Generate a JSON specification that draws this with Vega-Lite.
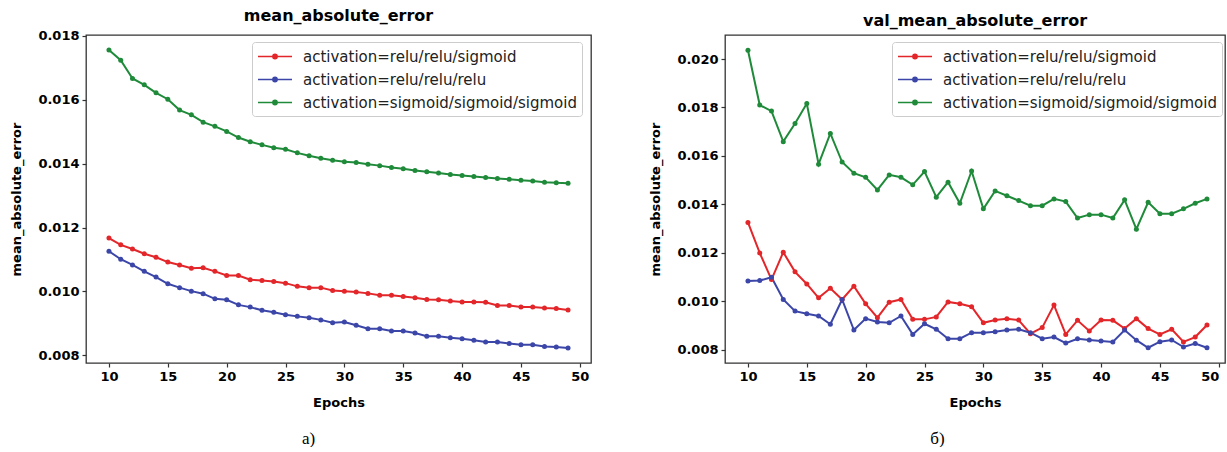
{
  "$schema": "https://vega.github.io/schema/vega-lite/v6.json",
  "background": "white",
  "padding": {"left": 10, "top": 7, "right": 0, "bottom": 0},
  "config": {
    "view": {"stroke": "#333333", "strokeWidth": 1.3},
    "font": "DejaVu Sans",
    "axis": {"domain": false, "grid": false, "tickColor": "#333333", "tickSize": 4, "tickWidth": 1.2, "labelFont": "DejaVu Sans", "labelFontWeight": "bold", "labelFontSize": 13, "labelColor": "#000000", "labelPadding": 3, "titleFont": "DejaVu Sans", "titleFontWeight": "bold", "titleFontSize": 13, "titleColor": "#000000"},
    "title": {"font": "DejaVu Sans", "fontSize": 16, "fontWeight": "bold", "color": "#000000", "offset": 6},
    "legend": {"title": null, "orient": "none", "legendX": 166, "legendY": 7, "symbolType": "M-1,0H3M0.75,0A0.25,0.25,0,1,1,1.25,0A0.25,0.25,0,1,1,0.75,0Z", "symbolSize": 289, "symbolStrokeWidth": 1.6, "labelFont": "DejaVu Sans", "labelFontSize": 15, "labelColor": "#222222", "labelOffset": 27, "rowPadding": 5, "padding": 5, "fillColor": "white", "strokeColor": "#cccccc", "cornerRadius": 3, "labelLimit": 400}
  },
  "datasets": {
    "train": [
      {"epoch": 10, "activation": "activation=relu/relu/sigmoid", "mae": 0.01167},
      {"epoch": 11, "activation": "activation=relu/relu/sigmoid", "mae": 0.01146},
      {"epoch": 12, "activation": "activation=relu/relu/sigmoid", "mae": 0.01133},
      {"epoch": 13, "activation": "activation=relu/relu/sigmoid", "mae": 0.01118},
      {"epoch": 14, "activation": "activation=relu/relu/sigmoid", "mae": 0.01107},
      {"epoch": 15, "activation": "activation=relu/relu/sigmoid", "mae": 0.01092},
      {"epoch": 16, "activation": "activation=relu/relu/sigmoid", "mae": 0.01083},
      {"epoch": 17, "activation": "activation=relu/relu/sigmoid", "mae": 0.01073},
      {"epoch": 18, "activation": "activation=relu/relu/sigmoid", "mae": 0.01074},
      {"epoch": 19, "activation": "activation=relu/relu/sigmoid", "mae": 0.01063},
      {"epoch": 20, "activation": "activation=relu/relu/sigmoid", "mae": 0.0105},
      {"epoch": 21, "activation": "activation=relu/relu/sigmoid", "mae": 0.0105},
      {"epoch": 22, "activation": "activation=relu/relu/sigmoid", "mae": 0.01037},
      {"epoch": 23, "activation": "activation=relu/relu/sigmoid", "mae": 0.01034},
      {"epoch": 24, "activation": "activation=relu/relu/sigmoid", "mae": 0.01031},
      {"epoch": 25, "activation": "activation=relu/relu/sigmoid", "mae": 0.01026},
      {"epoch": 26, "activation": "activation=relu/relu/sigmoid", "mae": 0.01016},
      {"epoch": 27, "activation": "activation=relu/relu/sigmoid", "mae": 0.01012},
      {"epoch": 28, "activation": "activation=relu/relu/sigmoid", "mae": 0.01012},
      {"epoch": 29, "activation": "activation=relu/relu/sigmoid", "mae": 0.01003},
      {"epoch": 30, "activation": "activation=relu/relu/sigmoid", "mae": 0.01001},
      {"epoch": 31, "activation": "activation=relu/relu/sigmoid", "mae": 0.00998},
      {"epoch": 32, "activation": "activation=relu/relu/sigmoid", "mae": 0.00994},
      {"epoch": 33, "activation": "activation=relu/relu/sigmoid", "mae": 0.00988},
      {"epoch": 34, "activation": "activation=relu/relu/sigmoid", "mae": 0.00988},
      {"epoch": 35, "activation": "activation=relu/relu/sigmoid", "mae": 0.00984},
      {"epoch": 36, "activation": "activation=relu/relu/sigmoid", "mae": 0.0098},
      {"epoch": 37, "activation": "activation=relu/relu/sigmoid", "mae": 0.00975},
      {"epoch": 38, "activation": "activation=relu/relu/sigmoid", "mae": 0.00974},
      {"epoch": 39, "activation": "activation=relu/relu/sigmoid", "mae": 0.0097},
      {"epoch": 40, "activation": "activation=relu/relu/sigmoid", "mae": 0.00967},
      {"epoch": 41, "activation": "activation=relu/relu/sigmoid", "mae": 0.00967},
      {"epoch": 42, "activation": "activation=relu/relu/sigmoid", "mae": 0.00966},
      {"epoch": 43, "activation": "activation=relu/relu/sigmoid", "mae": 0.00956},
      {"epoch": 44, "activation": "activation=relu/relu/sigmoid", "mae": 0.00956},
      {"epoch": 45, "activation": "activation=relu/relu/sigmoid", "mae": 0.00951},
      {"epoch": 46, "activation": "activation=relu/relu/sigmoid", "mae": 0.00951},
      {"epoch": 47, "activation": "activation=relu/relu/sigmoid", "mae": 0.00948},
      {"epoch": 48, "activation": "activation=relu/relu/sigmoid", "mae": 0.00947},
      {"epoch": 49, "activation": "activation=relu/relu/sigmoid", "mae": 0.00942},
      {"epoch": 10, "activation": "activation=relu/relu/relu", "mae": 0.01126},
      {"epoch": 11, "activation": "activation=relu/relu/relu", "mae": 0.01101},
      {"epoch": 12, "activation": "activation=relu/relu/relu", "mae": 0.01083},
      {"epoch": 13, "activation": "activation=relu/relu/relu", "mae": 0.01063},
      {"epoch": 14, "activation": "activation=relu/relu/relu", "mae": 0.01045},
      {"epoch": 15, "activation": "activation=relu/relu/relu", "mae": 0.01024},
      {"epoch": 16, "activation": "activation=relu/relu/relu", "mae": 0.01012},
      {"epoch": 17, "activation": "activation=relu/relu/relu", "mae": 0.01001},
      {"epoch": 18, "activation": "activation=relu/relu/relu", "mae": 0.00993},
      {"epoch": 19, "activation": "activation=relu/relu/relu", "mae": 0.00977},
      {"epoch": 20, "activation": "activation=relu/relu/relu", "mae": 0.00974},
      {"epoch": 21, "activation": "activation=relu/relu/relu", "mae": 0.00958},
      {"epoch": 22, "activation": "activation=relu/relu/relu", "mae": 0.00951},
      {"epoch": 23, "activation": "activation=relu/relu/relu", "mae": 0.00941},
      {"epoch": 24, "activation": "activation=relu/relu/relu", "mae": 0.00935},
      {"epoch": 25, "activation": "activation=relu/relu/relu", "mae": 0.00927},
      {"epoch": 26, "activation": "activation=relu/relu/relu", "mae": 0.00922},
      {"epoch": 27, "activation": "activation=relu/relu/relu", "mae": 0.00918},
      {"epoch": 28, "activation": "activation=relu/relu/relu", "mae": 0.00911},
      {"epoch": 29, "activation": "activation=relu/relu/relu", "mae": 0.00902},
      {"epoch": 30, "activation": "activation=relu/relu/relu", "mae": 0.00904},
      {"epoch": 31, "activation": "activation=relu/relu/relu", "mae": 0.00894},
      {"epoch": 32, "activation": "activation=relu/relu/relu", "mae": 0.00883},
      {"epoch": 33, "activation": "activation=relu/relu/relu", "mae": 0.00883},
      {"epoch": 34, "activation": "activation=relu/relu/relu", "mae": 0.00876},
      {"epoch": 35, "activation": "activation=relu/relu/relu", "mae": 0.00876},
      {"epoch": 36, "activation": "activation=relu/relu/relu", "mae": 0.0087},
      {"epoch": 37, "activation": "activation=relu/relu/relu", "mae": 0.0086},
      {"epoch": 38, "activation": "activation=relu/relu/relu", "mae": 0.0086},
      {"epoch": 39, "activation": "activation=relu/relu/relu", "mae": 0.00855},
      {"epoch": 40, "activation": "activation=relu/relu/relu", "mae": 0.00852},
      {"epoch": 41, "activation": "activation=relu/relu/relu", "mae": 0.00847},
      {"epoch": 42, "activation": "activation=relu/relu/relu", "mae": 0.00842},
      {"epoch": 43, "activation": "activation=relu/relu/relu", "mae": 0.00842},
      {"epoch": 44, "activation": "activation=relu/relu/relu", "mae": 0.00837},
      {"epoch": 45, "activation": "activation=relu/relu/relu", "mae": 0.00833},
      {"epoch": 46, "activation": "activation=relu/relu/relu", "mae": 0.00833},
      {"epoch": 47, "activation": "activation=relu/relu/relu", "mae": 0.00828},
      {"epoch": 48, "activation": "activation=relu/relu/relu", "mae": 0.00826},
      {"epoch": 49, "activation": "activation=relu/relu/relu", "mae": 0.00823},
      {"epoch": 10, "activation": "activation=sigmoid/sigmoid/sigmoid", "mae": 0.01756},
      {"epoch": 11, "activation": "activation=sigmoid/sigmoid/sigmoid", "mae": 0.01724},
      {"epoch": 12, "activation": "activation=sigmoid/sigmoid/sigmoid", "mae": 0.01667},
      {"epoch": 13, "activation": "activation=sigmoid/sigmoid/sigmoid", "mae": 0.01647},
      {"epoch": 14, "activation": "activation=sigmoid/sigmoid/sigmoid", "mae": 0.01622},
      {"epoch": 15, "activation": "activation=sigmoid/sigmoid/sigmoid", "mae": 0.01602},
      {"epoch": 16, "activation": "activation=sigmoid/sigmoid/sigmoid", "mae": 0.01568},
      {"epoch": 17, "activation": "activation=sigmoid/sigmoid/sigmoid", "mae": 0.01553},
      {"epoch": 18, "activation": "activation=sigmoid/sigmoid/sigmoid", "mae": 0.0153},
      {"epoch": 19, "activation": "activation=sigmoid/sigmoid/sigmoid", "mae": 0.01517},
      {"epoch": 20, "activation": "activation=sigmoid/sigmoid/sigmoid", "mae": 0.01501},
      {"epoch": 21, "activation": "activation=sigmoid/sigmoid/sigmoid", "mae": 0.01482},
      {"epoch": 22, "activation": "activation=sigmoid/sigmoid/sigmoid", "mae": 0.01469},
      {"epoch": 23, "activation": "activation=sigmoid/sigmoid/sigmoid", "mae": 0.01459},
      {"epoch": 24, "activation": "activation=sigmoid/sigmoid/sigmoid", "mae": 0.0145},
      {"epoch": 25, "activation": "activation=sigmoid/sigmoid/sigmoid", "mae": 0.01445},
      {"epoch": 26, "activation": "activation=sigmoid/sigmoid/sigmoid", "mae": 0.01434},
      {"epoch": 27, "activation": "activation=sigmoid/sigmoid/sigmoid", "mae": 0.01425},
      {"epoch": 28, "activation": "activation=sigmoid/sigmoid/sigmoid", "mae": 0.01417},
      {"epoch": 29, "activation": "activation=sigmoid/sigmoid/sigmoid", "mae": 0.01411},
      {"epoch": 30, "activation": "activation=sigmoid/sigmoid/sigmoid", "mae": 0.01406},
      {"epoch": 31, "activation": "activation=sigmoid/sigmoid/sigmoid", "mae": 0.01404},
      {"epoch": 32, "activation": "activation=sigmoid/sigmoid/sigmoid", "mae": 0.01398},
      {"epoch": 33, "activation": "activation=sigmoid/sigmoid/sigmoid", "mae": 0.01394},
      {"epoch": 34, "activation": "activation=sigmoid/sigmoid/sigmoid", "mae": 0.01388},
      {"epoch": 35, "activation": "activation=sigmoid/sigmoid/sigmoid", "mae": 0.01384},
      {"epoch": 36, "activation": "activation=sigmoid/sigmoid/sigmoid", "mae": 0.01379},
      {"epoch": 37, "activation": "activation=sigmoid/sigmoid/sigmoid", "mae": 0.01375},
      {"epoch": 38, "activation": "activation=sigmoid/sigmoid/sigmoid", "mae": 0.01371},
      {"epoch": 39, "activation": "activation=sigmoid/sigmoid/sigmoid", "mae": 0.01366},
      {"epoch": 40, "activation": "activation=sigmoid/sigmoid/sigmoid", "mae": 0.01363},
      {"epoch": 41, "activation": "activation=sigmoid/sigmoid/sigmoid", "mae": 0.0136},
      {"epoch": 42, "activation": "activation=sigmoid/sigmoid/sigmoid", "mae": 0.01357},
      {"epoch": 43, "activation": "activation=sigmoid/sigmoid/sigmoid", "mae": 0.01354},
      {"epoch": 44, "activation": "activation=sigmoid/sigmoid/sigmoid", "mae": 0.01351},
      {"epoch": 45, "activation": "activation=sigmoid/sigmoid/sigmoid", "mae": 0.01348},
      {"epoch": 46, "activation": "activation=sigmoid/sigmoid/sigmoid", "mae": 0.01346},
      {"epoch": 47, "activation": "activation=sigmoid/sigmoid/sigmoid", "mae": 0.01342},
      {"epoch": 48, "activation": "activation=sigmoid/sigmoid/sigmoid", "mae": 0.0134},
      {"epoch": 49, "activation": "activation=sigmoid/sigmoid/sigmoid", "mae": 0.01339}
    ],
    "val": [
      {"epoch": 10, "activation": "activation=relu/relu/sigmoid", "mae": 0.01326},
      {"epoch": 11, "activation": "activation=relu/relu/sigmoid", "mae": 0.012},
      {"epoch": 12, "activation": "activation=relu/relu/sigmoid", "mae": 0.0109},
      {"epoch": 13, "activation": "activation=relu/relu/sigmoid", "mae": 0.01203},
      {"epoch": 14, "activation": "activation=relu/relu/sigmoid", "mae": 0.01122},
      {"epoch": 15, "activation": "activation=relu/relu/sigmoid", "mae": 0.01072},
      {"epoch": 16, "activation": "activation=relu/relu/sigmoid", "mae": 0.01015},
      {"epoch": 17, "activation": "activation=relu/relu/sigmoid", "mae": 0.01054},
      {"epoch": 18, "activation": "activation=relu/relu/sigmoid", "mae": 0.01008},
      {"epoch": 19, "activation": "activation=relu/relu/sigmoid", "mae": 0.01063},
      {"epoch": 20, "activation": "activation=relu/relu/sigmoid", "mae": 0.0099},
      {"epoch": 21, "activation": "activation=relu/relu/sigmoid", "mae": 0.00933},
      {"epoch": 22, "activation": "activation=relu/relu/sigmoid", "mae": 0.00997},
      {"epoch": 23, "activation": "activation=relu/relu/sigmoid", "mae": 0.01008},
      {"epoch": 24, "activation": "activation=relu/relu/sigmoid", "mae": 0.00926},
      {"epoch": 25, "activation": "activation=relu/relu/sigmoid", "mae": 0.00926},
      {"epoch": 26, "activation": "activation=relu/relu/sigmoid", "mae": 0.00936},
      {"epoch": 27, "activation": "activation=relu/relu/sigmoid", "mae": 0.00998},
      {"epoch": 28, "activation": "activation=relu/relu/sigmoid", "mae": 0.0099},
      {"epoch": 29, "activation": "activation=relu/relu/sigmoid", "mae": 0.00978},
      {"epoch": 30, "activation": "activation=relu/relu/sigmoid", "mae": 0.00912},
      {"epoch": 31, "activation": "activation=relu/relu/sigmoid", "mae": 0.00923},
      {"epoch": 32, "activation": "activation=relu/relu/sigmoid", "mae": 0.00929},
      {"epoch": 33, "activation": "activation=relu/relu/sigmoid", "mae": 0.00923},
      {"epoch": 34, "activation": "activation=relu/relu/sigmoid", "mae": 0.00867},
      {"epoch": 35, "activation": "activation=relu/relu/sigmoid", "mae": 0.00892},
      {"epoch": 36, "activation": "activation=relu/relu/sigmoid", "mae": 0.00985},
      {"epoch": 37, "activation": "activation=relu/relu/sigmoid", "mae": 0.00864},
      {"epoch": 38, "activation": "activation=relu/relu/sigmoid", "mae": 0.00922},
      {"epoch": 39, "activation": "activation=relu/relu/sigmoid", "mae": 0.00878},
      {"epoch": 40, "activation": "activation=relu/relu/sigmoid", "mae": 0.00923},
      {"epoch": 41, "activation": "activation=relu/relu/sigmoid", "mae": 0.00922},
      {"epoch": 42, "activation": "activation=relu/relu/sigmoid", "mae": 0.00888},
      {"epoch": 43, "activation": "activation=relu/relu/sigmoid", "mae": 0.00929},
      {"epoch": 44, "activation": "activation=relu/relu/sigmoid", "mae": 0.00888},
      {"epoch": 45, "activation": "activation=relu/relu/sigmoid", "mae": 0.00864},
      {"epoch": 46, "activation": "activation=relu/relu/sigmoid", "mae": 0.00885},
      {"epoch": 47, "activation": "activation=relu/relu/sigmoid", "mae": 0.00833},
      {"epoch": 48, "activation": "activation=relu/relu/sigmoid", "mae": 0.00853},
      {"epoch": 49, "activation": "activation=relu/relu/sigmoid", "mae": 0.00903},
      {"epoch": 10, "activation": "activation=relu/relu/relu", "mae": 0.01084},
      {"epoch": 11, "activation": "activation=relu/relu/relu", "mae": 0.01086},
      {"epoch": 12, "activation": "activation=relu/relu/relu", "mae": 0.011},
      {"epoch": 13, "activation": "activation=relu/relu/relu", "mae": 0.01008},
      {"epoch": 14, "activation": "activation=relu/relu/relu", "mae": 0.0096},
      {"epoch": 15, "activation": "activation=relu/relu/relu", "mae": 0.00949},
      {"epoch": 16, "activation": "activation=relu/relu/relu", "mae": 0.0094},
      {"epoch": 17, "activation": "activation=relu/relu/relu", "mae": 0.00906},
      {"epoch": 18, "activation": "activation=relu/relu/relu", "mae": 0.01008},
      {"epoch": 19, "activation": "activation=relu/relu/relu", "mae": 0.00882},
      {"epoch": 20, "activation": "activation=relu/relu/relu", "mae": 0.00929},
      {"epoch": 21, "activation": "activation=relu/relu/relu", "mae": 0.00915},
      {"epoch": 22, "activation": "activation=relu/relu/relu", "mae": 0.00912},
      {"epoch": 23, "activation": "activation=relu/relu/relu", "mae": 0.0094},
      {"epoch": 24, "activation": "activation=relu/relu/relu", "mae": 0.00864},
      {"epoch": 25, "activation": "activation=relu/relu/relu", "mae": 0.00908},
      {"epoch": 26, "activation": "activation=relu/relu/relu", "mae": 0.00885},
      {"epoch": 27, "activation": "activation=relu/relu/relu", "mae": 0.00846},
      {"epoch": 28, "activation": "activation=relu/relu/relu", "mae": 0.00846},
      {"epoch": 29, "activation": "activation=relu/relu/relu", "mae": 0.00871},
      {"epoch": 30, "activation": "activation=relu/relu/relu", "mae": 0.00871},
      {"epoch": 31, "activation": "activation=relu/relu/relu", "mae": 0.00875},
      {"epoch": 32, "activation": "activation=relu/relu/relu", "mae": 0.00882},
      {"epoch": 33, "activation": "activation=relu/relu/relu", "mae": 0.00885},
      {"epoch": 34, "activation": "activation=relu/relu/relu", "mae": 0.00871},
      {"epoch": 35, "activation": "activation=relu/relu/relu", "mae": 0.00846},
      {"epoch": 36, "activation": "activation=relu/relu/relu", "mae": 0.00853},
      {"epoch": 37, "activation": "activation=relu/relu/relu", "mae": 0.00828},
      {"epoch": 38, "activation": "activation=relu/relu/relu", "mae": 0.00846},
      {"epoch": 39, "activation": "activation=relu/relu/relu", "mae": 0.00841},
      {"epoch": 40, "activation": "activation=relu/relu/relu", "mae": 0.00837},
      {"epoch": 41, "activation": "activation=relu/relu/relu", "mae": 0.00833},
      {"epoch": 42, "activation": "activation=relu/relu/relu", "mae": 0.00882},
      {"epoch": 43, "activation": "activation=relu/relu/relu", "mae": 0.0084},
      {"epoch": 44, "activation": "activation=relu/relu/relu", "mae": 0.00809},
      {"epoch": 45, "activation": "activation=relu/relu/relu", "mae": 0.00834},
      {"epoch": 46, "activation": "activation=relu/relu/relu", "mae": 0.00841},
      {"epoch": 47, "activation": "activation=relu/relu/relu", "mae": 0.00812},
      {"epoch": 48, "activation": "activation=relu/relu/relu", "mae": 0.00826},
      {"epoch": 49, "activation": "activation=relu/relu/relu", "mae": 0.00809},
      {"epoch": 10, "activation": "activation=sigmoid/sigmoid/sigmoid", "mae": 0.02036},
      {"epoch": 11, "activation": "activation=sigmoid/sigmoid/sigmoid", "mae": 0.0181},
      {"epoch": 12, "activation": "activation=sigmoid/sigmoid/sigmoid", "mae": 0.01785},
      {"epoch": 13, "activation": "activation=sigmoid/sigmoid/sigmoid", "mae": 0.01659},
      {"epoch": 14, "activation": "activation=sigmoid/sigmoid/sigmoid", "mae": 0.01734},
      {"epoch": 15, "activation": "activation=sigmoid/sigmoid/sigmoid", "mae": 0.01816},
      {"epoch": 16, "activation": "activation=sigmoid/sigmoid/sigmoid", "mae": 0.01566},
      {"epoch": 17, "activation": "activation=sigmoid/sigmoid/sigmoid", "mae": 0.01693},
      {"epoch": 18, "activation": "activation=sigmoid/sigmoid/sigmoid", "mae": 0.01575},
      {"epoch": 19, "activation": "activation=sigmoid/sigmoid/sigmoid", "mae": 0.01529},
      {"epoch": 20, "activation": "activation=sigmoid/sigmoid/sigmoid", "mae": 0.01512},
      {"epoch": 21, "activation": "activation=sigmoid/sigmoid/sigmoid", "mae": 0.0146},
      {"epoch": 22, "activation": "activation=sigmoid/sigmoid/sigmoid", "mae": 0.01522},
      {"epoch": 23, "activation": "activation=sigmoid/sigmoid/sigmoid", "mae": 0.01512},
      {"epoch": 24, "activation": "activation=sigmoid/sigmoid/sigmoid", "mae": 0.01481},
      {"epoch": 25, "activation": "activation=sigmoid/sigmoid/sigmoid", "mae": 0.01536},
      {"epoch": 26, "activation": "activation=sigmoid/sigmoid/sigmoid", "mae": 0.0143},
      {"epoch": 27, "activation": "activation=sigmoid/sigmoid/sigmoid", "mae": 0.01492},
      {"epoch": 28, "activation": "activation=sigmoid/sigmoid/sigmoid", "mae": 0.01405},
      {"epoch": 29, "activation": "activation=sigmoid/sigmoid/sigmoid", "mae": 0.01538},
      {"epoch": 30, "activation": "activation=sigmoid/sigmoid/sigmoid", "mae": 0.01382},
      {"epoch": 31, "activation": "activation=sigmoid/sigmoid/sigmoid", "mae": 0.01456},
      {"epoch": 32, "activation": "activation=sigmoid/sigmoid/sigmoid", "mae": 0.01436},
      {"epoch": 33, "activation": "activation=sigmoid/sigmoid/sigmoid", "mae": 0.01416},
      {"epoch": 34, "activation": "activation=sigmoid/sigmoid/sigmoid", "mae": 0.01395},
      {"epoch": 35, "activation": "activation=sigmoid/sigmoid/sigmoid", "mae": 0.01395},
      {"epoch": 36, "activation": "activation=sigmoid/sigmoid/sigmoid", "mae": 0.01423},
      {"epoch": 37, "activation": "activation=sigmoid/sigmoid/sigmoid", "mae": 0.01412},
      {"epoch": 38, "activation": "activation=sigmoid/sigmoid/sigmoid", "mae": 0.01344},
      {"epoch": 39, "activation": "activation=sigmoid/sigmoid/sigmoid", "mae": 0.01358},
      {"epoch": 40, "activation": "activation=sigmoid/sigmoid/sigmoid", "mae": 0.01358},
      {"epoch": 41, "activation": "activation=sigmoid/sigmoid/sigmoid", "mae": 0.01344},
      {"epoch": 42, "activation": "activation=sigmoid/sigmoid/sigmoid", "mae": 0.01419},
      {"epoch": 43, "activation": "activation=sigmoid/sigmoid/sigmoid", "mae": 0.01298},
      {"epoch": 44, "activation": "activation=sigmoid/sigmoid/sigmoid", "mae": 0.01409},
      {"epoch": 45, "activation": "activation=sigmoid/sigmoid/sigmoid", "mae": 0.01362},
      {"epoch": 46, "activation": "activation=sigmoid/sigmoid/sigmoid", "mae": 0.01362},
      {"epoch": 47, "activation": "activation=sigmoid/sigmoid/sigmoid", "mae": 0.01382},
      {"epoch": 48, "activation": "activation=sigmoid/sigmoid/sigmoid", "mae": 0.01405},
      {"epoch": 49, "activation": "activation=sigmoid/sigmoid/sigmoid", "mae": 0.01423}
    ]
  },
  "bounds": "flush",
  "spacing": 134,
  "resolve": {"scale": {"color": "independent"}, "legend": {"color": "independent"}},
  "hconcat": [
    {
      "width": 505,
      "height": 328,
      "title": {"text": "mean_absolute_error"},
      "data": {"name": "train"},
      "layer": [
        {
          "mark": {"type": "line", "strokeWidth": 2},
          "encoding": {
            "x": {"field": "epoch", "type": "quantitative", "scale": {"domain": [8.05, 50.95], "nice": false, "zero": false}, "axis": {"title": "Epochs", "values": [10, 15, 20, 25, 30, 35, 40, 45, 50], "format": "d", "titlePadding": 13}},
            "y": {"field": "mae", "type": "quantitative", "scale": {"domain": [0.00776, 0.01803], "nice": false, "zero": false}, "axis": {"title": "mean_absolute_error", "values": [0.008, 0.01, 0.012, 0.014, 0.016, 0.018], "format": ".3f", "titlePadding": 14}},
            "color": {"field": "activation", "type": "nominal", "scale": {"domain": ["activation=relu/relu/sigmoid", "activation=relu/relu/relu", "activation=sigmoid/sigmoid/sigmoid"], "range": ["#e3262a", "#3b46a8", "#1f8b3a"]}, "legend": {"legendX": 166, "legendY": 7}}
          }
        },
        {
          "mark": {"type": "point", "filled": true, "size": 25, "opacity": 1},
          "encoding": {
            "x": {"field": "epoch", "type": "quantitative", "axis": {"orient": "bottom", "labels": false, "ticks": false, "domain": false, "title": "а)", "titleFont": "Liberation Serif", "titleFontWeight": "normal", "titleFontSize": 17, "titleX": 222, "titleY": 80, "titleAlign": "center", "titleBaseline": "alphabetic"}},
            "y": {"field": "mae", "type": "quantitative"},
            "color": {"field": "activation", "type": "nominal"}
          }
        }
      ],
      "resolve": {"axis": {"x": "independent"}}
    },
    {
      "width": 500,
      "height": 328,
      "title": {"text": "val_mean_absolute_error"},
      "data": {"name": "val"},
      "layer": [
        {
          "mark": {"type": "line", "strokeWidth": 2},
          "encoding": {
            "x": {"field": "epoch", "type": "quantitative", "scale": {"domain": [8.05, 50.53], "nice": false, "zero": false}, "axis": {"title": "Epochs", "values": [10, 15, 20, 25, 30, 35, 40, 45, 50], "format": "d", "titlePadding": 13, "labelFlush": 8}},
            "y": {"field": "mae", "type": "quantitative", "scale": {"domain": [0.00746, 0.02099], "nice": false, "zero": false}, "axis": {"title": "mean_absolute_error", "values": [0.008, 0.01, 0.012, 0.014, 0.016, 0.018, 0.02], "format": ".3f", "titlePadding": 14}},
            "color": {"field": "activation", "type": "nominal", "scale": {"domain": ["activation=relu/relu/sigmoid", "activation=relu/relu/relu", "activation=sigmoid/sigmoid/sigmoid"], "range": ["#e3262a", "#3b46a8", "#1f8b3a"]}, "legend": {"legendX": 167, "legendY": 7}}
          }
        },
        {
          "mark": {"type": "point", "filled": true, "size": 25, "opacity": 1},
          "encoding": {
            "x": {"field": "epoch", "type": "quantitative", "axis": {"orient": "bottom", "labels": false, "ticks": false, "domain": false, "title": "б)", "titleFont": "Liberation Serif", "titleFontWeight": "normal", "titleFontSize": 17, "titleX": 212, "titleY": 80, "titleAlign": "center", "titleBaseline": "alphabetic"}},
            "y": {"field": "mae", "type": "quantitative"},
            "color": {"field": "activation", "type": "nominal"}
          }
        }
      ],
      "resolve": {"axis": {"x": "independent"}}
    }
  ]
}
